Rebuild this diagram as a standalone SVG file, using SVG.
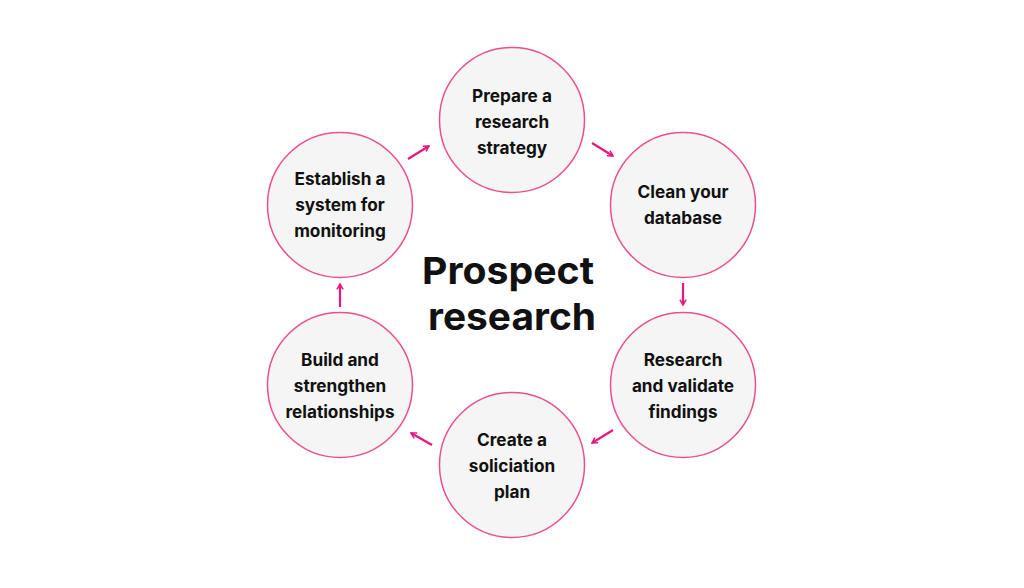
<svg xmlns="http://www.w3.org/2000/svg" width="1024" height="588" viewBox="0 0 1024 588">
<defs>
<style>
.node circle{fill:#f5f5f5;stroke:#ea4f92;stroke-width:1.5}
.node text{font-family:Inter,"Liberation Sans",sans-serif;font-weight:700;font-size:17.2px;fill:#111;text-anchor:middle;dominant-baseline:central}
.title{font-family:Inter,"Liberation Sans",sans-serif;font-weight:700;font-size:37.5px;fill:#111;text-anchor:middle;dominant-baseline:central}
.conn line{stroke:#e8177d;stroke-width:2.2;marker-end:url(#ah)}
</style>
<marker id="ah" viewBox="0 0 10 10" refX="8" refY="5" markerWidth="3.5" markerHeight="3.5" orient="auto" markerUnits="strokeWidth">
<path d="M1,1 L8,5 L1,9" fill="none" stroke="#e8177d" stroke-width="2"/>
</marker>
</defs>
<rect width="1024" height="588" fill="#ffffff"/>
<g id="title"><text class="title" x="508" y="270" textLength="172" lengthAdjust="spacingAndGlyphs">Prospect</text><text class="title" x="512" y="316" textLength="168" lengthAdjust="spacingAndGlyphs">research</text></g>
<g id="n1" class="node"><circle cx="512" cy="120" r="72.5"/><text x="512" y="95">Prepare a</text><text x="512" y="121">research</text><text x="512" y="147">strategy</text></g>
<g id="n2" class="node"><circle cx="683" cy="205" r="72.5"/><text x="683" y="191">Clean your</text><text x="683" y="217">database</text></g>
<g id="n3" class="node"><circle cx="683" cy="385" r="72.5"/><text x="683" y="359">Research</text><text x="683" y="385">and validate</text><text x="683" y="411">findings</text></g>
<g id="n4" class="node"><circle cx="512" cy="465" r="72.5"/><text x="512" y="439">Create a</text><text x="512" y="465">soliciation</text><text x="512" y="491">plan</text></g>
<g id="n5" class="node"><circle cx="340" cy="385" r="72.5"/><text x="340" y="359">Build and</text><text x="340" y="385">strengthen</text><text x="340" y="411">relationships</text></g>
<g id="n6" class="node"><circle cx="340" cy="205" r="72.5"/><text x="340" y="178">Establish a</text><text x="340" y="204">system for</text><text x="340" y="230">monitoring</text></g>
<g id="connectors" class="conn">
<line x1="408" y1="159" x2="429" y2="146"/>
<line x1="592" y1="143" x2="613" y2="156"/>
<line x1="683" y1="283" x2="683" y2="305"/>
<line x1="613" y1="430" x2="592" y2="443"/>
<line x1="432" y1="445" x2="411" y2="433"/>
<line x1="340" y1="307" x2="340" y2="284"/>
</g>
</svg>
